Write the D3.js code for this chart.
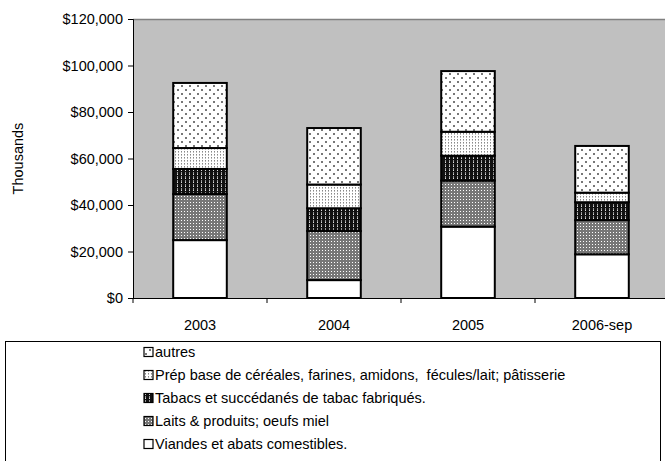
<!DOCTYPE html>
<html><head><meta charset="utf-8">
<script src="https://cdn.jsdelivr.net/npm/d3@7"></script>
<style>body{margin:0;background:#fff}svg{display:block}text{font-family:"Liberation Sans",Arial,sans-serif;fill:#000}</style>
</head><body><div id="chart"></div>
<script>
const categories = ["2003","2004","2005","2006-sep"];
const seriesNames = ["Viandes et abats comestibles.","Laits & produits; oeufs miel","Tabacs et succédanés de tabac fabriqués.","Prép base de céréales, farines, amidons,  fécules/lait; pâtisserie","autres"];
const viandes = [24900, 7700, 30700, 18800];
const laits = [19800, 21100, 19800, 14700];
const tabacs = [10800, 9800, 10700, 7700];
const prep = [9000, 10200, 10300, 4100];
const autres = [28000, 24300, 26100, 20100];
const yTicks = [0,20000,40000,60000,80000,100000,120000];
const seriesValues = [viandes, laits, tabacs, prep, autres];

const W=665,H=461;
const m={left:133,top:19,bottom:298};
const bandW=134;
const svg=d3.select("#chart").append("svg").attr("width",W).attr("height",H);
const defs=svg.append("defs");
function pat(id,size,bg,shapes){
  const p=defs.append("pattern").attr("id",id).attr("patternUnits","userSpaceOnUse").attr("width",size).attr("height",size);
  p.append("rect").attr("width",size).attr("height",size).attr("fill",bg);
  shapes.forEach(s=>p.append("rect").attr("x",s[0]).attr("y",s[1]).attr("width",s[2]).attr("height",s[3]).attr("fill",s[4]));
}
pat("p0",4,"#fff",[]);
pat("p1",3,"#777",[[1,1,1,1,"#fff"]]);
pat("p2",4,"#111",[[1,0,1,2,"#999"],[1,2,1,1,"#ddd"]]);
pat("p3",3,"#fff",[[1,1,1,1,"#888"],[1,2,1,1,"#bbb"]]);
pat("p4",8,"#fff",[[1,1,2,2,"#777"],[5,5,2,2,"#777"]]);
const fills=["url(#p0)","url(#p1)","url(#p2)","url(#p3)","url(#p4)"];

const x=d3.scaleBand().domain(categories).range([m.left,m.left+bandW*categories.length]).paddingInner(0.6).paddingOuter(0.3);
const y=d3.scaleLinear().domain([0,120000]).range([m.bottom,m.top]);

svg.append("rect").attr("x",m.left).attr("y",m.top).attr("width",W-m.left).attr("height",m.bottom-m.top).attr("fill","#c0c0c0");
svg.append("line").attr("x1",m.left).attr("x2",W).attr("y1",m.top+0.5).attr("y2",m.top+0.5).attr("stroke","#808080").attr("stroke-width",1.5);

const data=categories.map((c,i)=>{const o={cat:c};seriesNames.forEach((s,j)=>o[s]=seriesValues[j][i]);return o;});
const stack=d3.stack().keys(seriesNames)(data);
const g=svg.append("g");
stack.forEach((layer,j)=>{
  g.selectAll(null).data(layer).enter().append("rect")
   .attr("x",d=>x(d.data.cat)).attr("width",x.bandwidth())
   .attr("y",d=>y(d[1])).attr("height",d=>y(d[0])-y(d[1]))
   .attr("fill",fills[j]).attr("stroke","#000").attr("stroke-width",2);
});

const yAxis=d3.axisLeft(y).tickValues(yTicks).tickSize(5).tickFormat(d=>"$"+d3.format(",")(d));
const ya=svg.append("g").attr("transform",`translate(${m.left},0)`).call(yAxis);
ya.select(".domain").attr("stroke","#000");
ya.selectAll("text").attr("font-size",14.5).attr("x",-10).attr("font-family","Liberation Sans, Arial");
const xTickScale=d3.scaleLinear().domain([0,categories.length]).range([m.left,m.left+bandW*categories.length]);
const xAxis=d3.axisBottom(x).tickSize(0).tickPadding(22);
const xa=svg.append("g").attr("transform",`translate(0,${m.bottom})`).call(xAxis);
xa.select(".domain").remove();
xa.selectAll("text").attr("font-size",14.5).attr("font-family","Liberation Sans, Arial");
svg.append("line").attr("x1",m.left).attr("x2",W).attr("y1",m.bottom+0.5).attr("y2",m.bottom+0.5).attr("stroke","#000");
svg.append("g").selectAll("line").data(d3.range(categories.length+1)).enter().append("line")
  .attr("x1",d=>xTickScale(d)).attr("x2",d=>xTickScale(d)).attr("y1",m.bottom).attr("y2",m.bottom+5).attr("stroke","#000");

svg.append("text").attr("transform",`translate(23,${(m.top+m.bottom)/2}) rotate(-90)`).attr("text-anchor","middle").attr("font-size",14.5).text("Thousands");

const lg=svg.append("g");
lg.append("rect").attr("x",5.5).attr("y",341.5).attr("width",655).attr("height",140).attr("fill","#fff").attr("stroke","#000");
const order=[4,3,2,1,0];
order.forEach((j,k)=>{
  const yy=352+k*23;
  lg.append("rect").attr("x",144).attr("y",yy-4.5).attr("width",9).attr("height",9).attr("fill",fills[j]).attr("stroke","#000").attr("stroke-width",1.2);
  lg.append("text").attr("x",155).attr("y",yy+5).attr("font-size",14.5).style("white-space","pre").text(seriesNames[j]);
});
</script></body></html>
